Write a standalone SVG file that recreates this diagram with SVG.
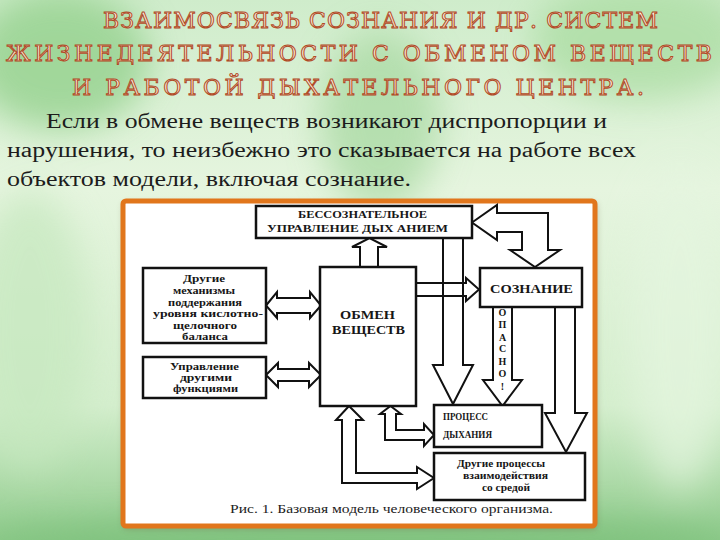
<svg xmlns="http://www.w3.org/2000/svg" width="720" height="540" viewBox="0 0 720 540">
<defs>
<linearGradient id="bg" x1="0" y1="0" x2="0" y2="1">
<stop offset="0" stop-color="#cfeccb"/>
<stop offset="0.35" stop-color="#e6f5df"/>
<stop offset="0.75" stop-color="#d4eecd"/>
<stop offset="1" stop-color="#8fcb8c"/>
</linearGradient>
<filter id="blur" x="-50%" y="-50%" width="200%" height="200%"><feGaussianBlur stdDeviation="18"/></filter>
<filter id="sh" x="-10%" y="-10%" width="120%" height="120%"><feGaussianBlur stdDeviation="3"/></filter>
<linearGradient id="tfill" x1="0" y1="0" x2="0" y2="1">
<stop offset="0" stop-color="#fffaf2"/>
<stop offset="1" stop-color="#f2cfa8"/>
</linearGradient>
<style>
.title{font-family:"DejaVu Serif","Liberation Serif",serif;font-size:22px;font-weight:normal;fill:url(#tfill);stroke:#b04a26;stroke-width:1;}
.body{font-family:"Liberation Serif","DejaVu Serif",serif;font-size:20px;fill:#1c1c1c;}
.box{fill:#ffffff;stroke:#111;stroke-width:2.5;}
.arr{fill:none;stroke:#111;stroke-width:2;stroke-linejoin:miter;}
.lb{font-family:"Liberation Serif","DejaVu Serif",serif;font-weight:bold;fill:#161616;text-anchor:middle;}
.lbs{font-family:"Liberation Serif","DejaVu Serif",serif;font-weight:bold;fill:#161616;}
.cap{font-family:"Liberation Serif","DejaVu Serif",serif;font-size:12px;fill:#222;}
</style>
</defs>

<rect x="0" y="0" width="720" height="540" fill="url(#bg)"/>
<g filter="url(#blur)" opacity="0.75">
<ellipse cx="60" cy="60" rx="90" ry="70" fill="#8fcf88"/>
<ellipse cx="640" cy="40" rx="110" ry="60" fill="#a9dca0"/>
<ellipse cx="380" cy="120" rx="60" ry="90" fill="#a8d9a2"/>
<ellipse cx="30" cy="330" rx="60" ry="140" fill="#c6e8bf"/>
<ellipse cx="680" cy="330" rx="50" ry="160" fill="#e4f5df"/>
<ellipse cx="360" cy="545" rx="380" ry="30" fill="#7cc07a"/>
</g>

<rect x="123" y="203" width="474" height="326" rx="3" fill="#6b5a3a" opacity="0.35" filter="url(#sh)"/>
<rect x="123" y="201" width="472" height="325" rx="3" fill="#ffffff" stroke="#e1761c" stroke-width="5"/>

<g id="title">
<text class="title" x="103" y="28" textLength="555" lengthAdjust="spacing">ВЗАИМОСВЯЗЬ СОЗНАНИЯ И ДР. СИСТЕМ</text>
<text class="title" x="6" y="61" textLength="706" lengthAdjust="spacing">ЖИЗНЕДЕЯТЕЛЬНОСТИ С ОБМЕНОМ ВЕЩЕСТВ</text>
<text class="title" x="72" y="95" textLength="572" lengthAdjust="spacing">И РАБОТОЙ ДЫХАТЕЛЬНОГО ЦЕНТРА.</text>
</g>

<g id="body-text">
<text class="body" x="46" y="128" textLength="561" lengthAdjust="spacingAndGlyphs">Если в обмене веществ возникают диспропорции и</text>
<text class="body" x="7" y="157" textLength="629" lengthAdjust="spacingAndGlyphs">нарушения, то неизбежно это сказывается на работе всех</text>
<text class="body" x="7" y="186" textLength="404" lengthAdjust="spacingAndGlyphs">объектов модели, включая сознание.</text>
</g>

<g id="connectors">
<path class="arr" d="M360,267 L360,247 L352,247 L369.5,238 L387,247 L378,247 L378,267"/>
<path class="arr" d="M472,222.5 L497,205 L497,213 L548,213 L548,250 L560,250 L535,267 L510,250 L522,250 L522,232 L497,232 L497,240 Z"/>
<path class="arr" d="M443,238 L443,365 L433,365 L453,404 L473,365 L463,365 L463,238"/>
<path class="arr" d="M416,283 L466,283 L466,278 L479,289.5 L466,301 L466,296 L416,296"/>
<path class="arr" d="M493,307 L493,380 L483,380 L502.5,406 L522,380 L512,380 L512,307"/>
<path class="arr" d="M555,307 L555,413 L545,413 L566,452 L587,413 L575,413 L575,307"/>
<path class="arr" d="M266,305.5 L277,292 L277,298 L310,298 L310,292 L321,305.5 L310,318 L310,313 L277,313 L277,318 Z"/>
<path class="arr" d="M266,375 L278,363 L278,369 L309,369 L309,363 L321,375 L309,387 L309,381 L278,381 L278,387 Z"/>
<path class="arr" d="M349,406 L363,420 L356,420 L356,473 L417,473 L417,467 L434,478 L417,489 L417,483 L342,483 L342,420 L336,420 Z"/>
<path class="arr" d="M390.5,406 L401,414 L396,414 L396,430 L424,430 L424,424 L434,435 L424,446 L424,440 L385,440 L385,414 L380,414 Z"/>
</g>

<g id="node-bessoznatelnoe">
<rect class="box" x="256" y="206" width="216" height="32"/>
<text class="lbs" x="298" y="218" font-size="10" textLength="129" lengthAdjust="spacingAndGlyphs">БЕССОЗНАТЕЛЬНОЕ</text>
<text class="lbs" x="267" y="232" font-size="10" textLength="181" lengthAdjust="spacingAndGlyphs">УПРАВЛЕНИЕ ДЫХ АНИЕМ</text>
</g>

<g id="node-obmen">
<rect class="box" x="320" y="267" width="96" height="139"/>
<text class="lbs" x="340" y="319" font-size="13" textLength="55" lengthAdjust="spacingAndGlyphs">ОБМЕН</text>
<text class="lbs" x="332" y="334" font-size="13" textLength="73" lengthAdjust="spacingAndGlyphs">ВЕЩЕСТВ</text>
</g>

<g id="node-soznanie">
<rect class="box" x="480" y="268" width="102" height="39"/>
<text class="lbs" x="490" y="293" font-size="12" textLength="83" lengthAdjust="spacingAndGlyphs">СОЗНАНИЕ</text>
</g>

<g id="node-mekhanizmy">
<rect class="box" x="143" y="268" width="123" height="75"/>
<text class="lbs" x="183" y="282" font-size="10.5" textLength="42" lengthAdjust="spacingAndGlyphs">Другие</text>
<text class="lbs" x="173" y="294" font-size="10.5" textLength="62" lengthAdjust="spacingAndGlyphs">механизмы</text>
<text class="lbs" x="168" y="306" font-size="10.5" textLength="74" lengthAdjust="spacingAndGlyphs">поддержания</text>
<text class="lbs" x="153" y="317" font-size="10.5" textLength="110" lengthAdjust="spacingAndGlyphs">уровня кислотно-</text>
<text class="lbs" x="173" y="329" font-size="10.5" textLength="64" lengthAdjust="spacingAndGlyphs">щелочного</text>
<text class="lbs" x="182" y="340" font-size="10.5" textLength="46" lengthAdjust="spacingAndGlyphs">баланса</text>
</g>

<g id="node-upravlenie">
<rect class="box" x="143" y="357" width="123" height="41"/>
<text class="lbs" x="170" y="370" font-size="10.5" textLength="69" lengthAdjust="spacingAndGlyphs">Управление</text>
<text class="lbs" x="180" y="381" font-size="10.5" textLength="52" lengthAdjust="spacingAndGlyphs">другими</text>
<text class="lbs" x="173" y="392" font-size="10.5" textLength="65" lengthAdjust="spacingAndGlyphs">функциями</text>
</g>

<g id="node-protsess">
<rect class="box" x="434" y="405" width="108" height="42"/>
<text class="lbs" x="443" y="420" font-size="10" textLength="45" lengthAdjust="spacingAndGlyphs">ПРОЦЕСС</text>
<text class="lbs" x="443" y="438" font-size="10" textLength="49" lengthAdjust="spacingAndGlyphs">ДЫХАНИЯ</text>
</g>

<g id="node-drugie-protsessy">
<rect class="box" x="434" y="453" width="151" height="47"/>
<text class="lbs" x="457" y="467" font-size="10" textLength="88" lengthAdjust="spacingAndGlyphs">Другие процессы</text>
<text class="lbs" x="463" y="479" font-size="10" textLength="85" lengthAdjust="spacingAndGlyphs">взаимодействия</text>
<text class="lbs" x="482" y="491" font-size="10" textLength="48" lengthAdjust="spacingAndGlyphs">со средой</text>
</g>

<g id="label-opasno">
<text class="lb" x="502.5" y="316" font-size="10">О</text>
<text class="lb" x="502.5" y="328" font-size="10">П</text>
<text class="lb" x="502.5" y="341" font-size="10">А</text>
<text class="lb" x="502.5" y="352" font-size="10">С</text>
<text class="lb" x="502.5" y="365" font-size="10">Н</text>
<text class="lb" x="502.5" y="377" font-size="10">О</text>
<text class="lb" x="502.5" y="390" font-size="10">!</text>
</g>

<text class="cap" x="230" y="513" textLength="323" lengthAdjust="spacingAndGlyphs">Рис. 1. Базовая модель человеческого организма.</text>
</svg>
